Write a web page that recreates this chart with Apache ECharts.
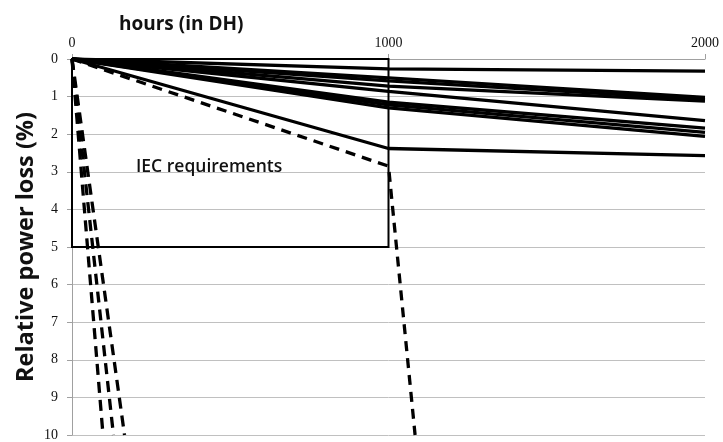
<!DOCTYPE html>
<html>
<head>
<meta charset="utf-8">
<script src="https://cdn.jsdelivr.net/npm/echarts@6/dist/echarts.min.js"></script>
<style>html,body{margin:0;padding:0;background:#fff}#c{width:723px;height:442px}</style>
</head>
<body>
<div id="c"></div>
<script>
// Data
const hours = [0, 1000, 2000];
const solidA = [0, 0.26, 0.32];
const solidB = [0, 0.50, 1.02];
const solidC = [0, 0.58, 1.08];
const solidD = [0, 0.72, 1.12];
const solidE = [0, 0.86, 1.64];
const solidF = [0, 1.15, 1.84];
const solidG = [0, 1.22, 1.95];
const solidH = [0, 1.30, 2.06];
const solidI = [0, 2.38, 2.57];
const solidSeries = [solidA, solidB, solidC, solidD, solidE, solidF, solidG, solidH, solidI];

const dashMainHours = [0, 1000, 1084];
const dashMainLoss = [0, 2.85, 10];
const steepHours = [[0, 98], [0, 131], [0, 166]];
const steepLoss = [0, 10];

const xTicks = [0, 1000, 2000];
const yTicks = [0,1,2,3,4,5,6,7,8,9,10];
const iecBox = {hours: [0, 1000], loss: [0, 5], label: 'IEC requirements'};

const series = [];
solidSeries.forEach(vals => {
  series.push({
    type: 'line', data: hours.map((h, i) => [h, vals[i]]),
    symbol: 'none', lineStyle: {color: '#000', width: 3.3}, z: 3
  });
});
series.push({
  type: 'line', data: dashMainHours.map((h, i) => [h, dashMainLoss[i]]),
  symbol: 'none', lineStyle: {color: '#000', width: 3.3, type: [10, 7]}, z: 3
});
steepHours.forEach(hs => {
  series.push({
    type: 'line', data: hs.map((h, i) => [h, steepLoss[i]]),
    symbol: 'none', lineStyle: {color: '#000', width: 3.3, type: [11, 7]}, z: 3
  });
});
series[0].markArea = {
  silent: true,
  itemStyle: {color: 'rgba(0,0,0,0)', borderColor: '#000', borderWidth: 2},
  label: {show: true, position: [65, 100], color: '#111', fontFamily: 'Open Sans', fontSize: 17.5, fontWeight: 600},
  data: [[{name: iecBox.label, coord: [iecBox.hours[0], iecBox.loss[0]]}, {coord: [iecBox.hours[1], iecBox.loss[1]]}]]
};

const chart = echarts.init(document.getElementById('c'));
chart.setOption({
  animation: false,
  backgroundColor: '#fff',
  title: {
    text: 'hours (in DH)', left: 114, top: 10,
    textStyle: {fontFamily: 'Open Sans', fontWeight: 'bold', fontSize: 19, color: '#111'}
  },
  grid: {left: 72, top: 59, right: 18, bottom: 5},
  xAxis: {
    type: 'value', position: 'top', min: 0, max: 2000, interval: 1000,
    axisLine: {show: true, lineStyle: {color: '#a0a0a0', width: 1}},
    axisTick: {show: true, length: 5, lineStyle: {color: '#a0a0a0'}},
    splitLine: {show: false},
    axisLabel: {color: '#111', fontFamily: 'Liberation Serif', fontSize: 14, margin: 9,
      formatter: v => xTicks.includes(v) ? String(v) : ''}
  },
  yAxis: {
    type: 'value', inverse: true, min: 0, max: 10, interval: 1,
    name: 'Relative power loss (%)', nameLocation: 'middle', nameGap: 34, nameRotate: 90,
    nameMoveOverlap: false,
    nameTextStyle: {fontFamily: 'Open Sans', fontWeight: 'bold', fontSize: 23.5, color: '#111'},
    axisLine: {show: true, lineStyle: {color: '#a0a0a0', width: 1}},
    axisTick: {show: true, length: 5, lineStyle: {color: '#a0a0a0'}},
    splitLine: {show: true, lineStyle: {color: '#c0c0c0', width: 1}},
    axisLabel: {color: '#111', fontFamily: 'Liberation Serif', fontSize: 14, margin: 14,
      formatter: v => yTicks.includes(v) ? String(v) : ''}
  },
  series: series
});
</script>
</body>
</html>
